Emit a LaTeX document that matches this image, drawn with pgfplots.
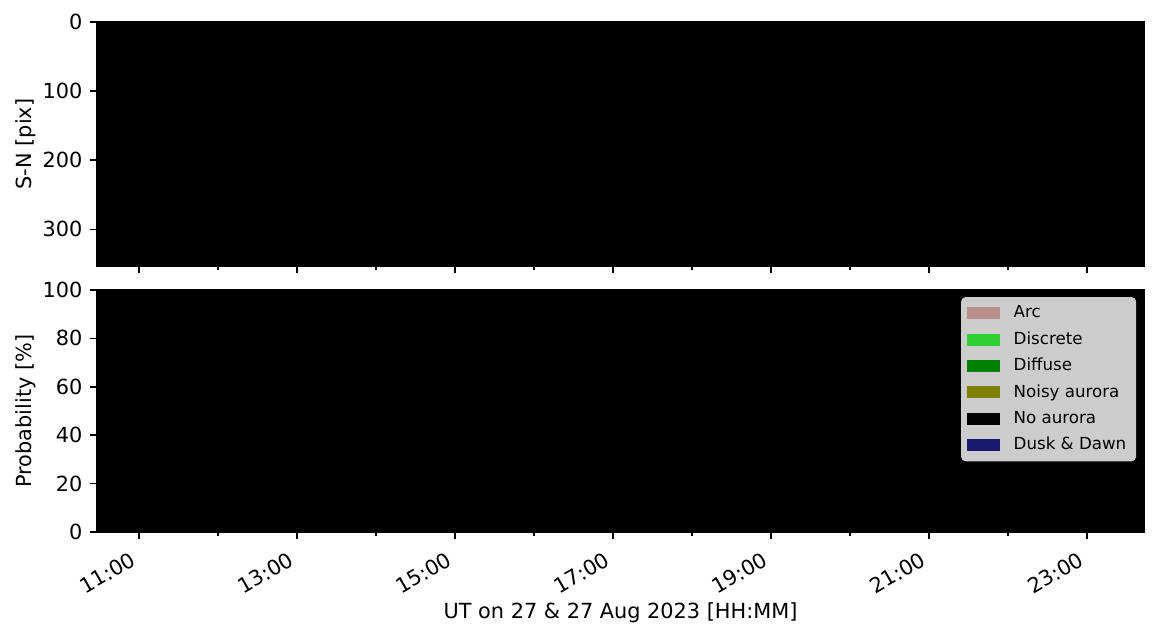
\documentclass[border=0pt]{standalone}
\usepackage{pgfplots}
\pgfplotsset{compat=1.18}
\usepackage{pgfplotstable}
\usepackage{fontspec}
\setmainfont{DejaVu Sans}
\definecolor{arc}{HTML}{BC8F8F}
\definecolor{discrete}{HTML}{32CD32}
\definecolor{diffuse}{HTML}{008000}
\definecolor{noisy}{HTML}{808000}
\definecolor{dusk}{HTML}{191970}
\definecolor{legbg}{HTML}{CCCCCC}

% Time in hours UT; class probabilities in %
\pgfplotstableread{
t       arc discrete diffuse noisy noaurora dusk
10.468  0   0        0       0     100      0
12.000  0   0        0       0     100      0
14.000  0   0        0       0     100      0
16.000  0   0        0       0     100      0
18.000  0   0        0       0     100      0
20.000  0   0        0       0     100      0
22.000  0   0        0       0     100      0
23.722  0   0        0       0     100      0
}\probtable

% Keogram (S-N pixel extent, fully dark)
\pgfplotstableread{
t       y
10.468  353
23.722  353
}\keotable

\pgfplotsset{
  common/.style={
    scale only axis,
    width=502.56pt,
    xmin=10.468, xmax=23.722,
    xtick={11,13,15,17,19,21,23},
    minor xtick={12,14,16,18,20,22},
    tick align=outside,
    xtick pos=bottom, ytick pos=left,
    major tick length=3.5pt,
    minor tick length=2pt,
    every tick/.style={black, line width=0.8pt},
    every minor tick/.style={black, line width=0.6pt},
    axis line style={line width=0.8pt},
    tick label style={font=\fontsize{10}{12}\selectfont},
    label style={font=\fontsize{10}{12}\selectfont},
    /pgf/number format/assume math mode=true,
    ylabel style={at={(axis description cs:-0.068,0.5)}, anchor=center, rotate=0},
    axis on top,
  }
}

\begin{document}
\begin{tikzpicture}
\useasboundingbox (0,0) rectangle (555.84pt,306.24pt);

\begin{axis}[common,
  at={(46.56pt,178.56pt)}, anchor=south west,
  height=117.12pt,
  ymin=0, ymax=353, y dir=reverse,
  ytick={0,100,200,300},
  xticklabels={},
  ylabel={S-N [pix]},
]
\addplot[fill=black, draw=none] table[x=t, y=y] {\keotable} \closedcycle;
\end{axis}

\begin{axis}[common,
  at={(46.56pt,50.88pt)}, anchor=south west,
  height=116.16pt,
  ymin=0, ymax=100,
  ytick={0,20,40,60,80,100},
  xticklabels={11:00,13:00,15:00,17:00,19:00,21:00,23:00},
  xticklabel style={rotate=30, anchor=north east, inner sep=1pt, xshift=-5.5pt, yshift=-1.5pt},
  ylabel={Probability [\%]},
  xlabel={UT on 27 \& 27 Aug 2023 [HH:MM]},
  xlabel style={at={(axis description cs:0.5,-0.332)}, anchor=center},
  stack plots=y,
  area legend,
  legend image code/.code={\fill[#1, draw=none, sharp corners] (0pt,-2.9pt) rectangle (16pt,2.9pt); \path (20.5pt,0pt);},
  legend style={at={(axis description cs:0.9924,0.971)}, anchor=north east,
    fill=legbg, draw=legbg, rounded corners=2pt,
    font=\fontsize{8}{9.6}\selectfont,
    row sep=1.1pt, inner xsep=2.5pt, inner ysep=2pt},
  legend cell align=left,
]
\addplot[fill=arc, draw=none] table[x=t, y=arc] {\probtable} \closedcycle;
\addlegendentry{Arc}
\addplot[fill=discrete, draw=none] table[x=t, y=discrete] {\probtable} \closedcycle;
\addlegendentry{Discrete}
\addplot[fill=diffuse, draw=none] table[x=t, y=diffuse] {\probtable} \closedcycle;
\addlegendentry{Diffuse}
\addplot[fill=noisy, draw=none] table[x=t, y=noisy] {\probtable} \closedcycle;
\addlegendentry{Noisy aurora}
\addplot[fill=black, draw=none] table[x=t, y=noaurora] {\probtable} \closedcycle;
\addlegendentry{No aurora}
\addplot[fill=dusk, draw=none] table[x=t, y=dusk] {\probtable} \closedcycle;
\addlegendentry{Dusk \& Dawn}
\end{axis}
\end{tikzpicture}
\end{document}
